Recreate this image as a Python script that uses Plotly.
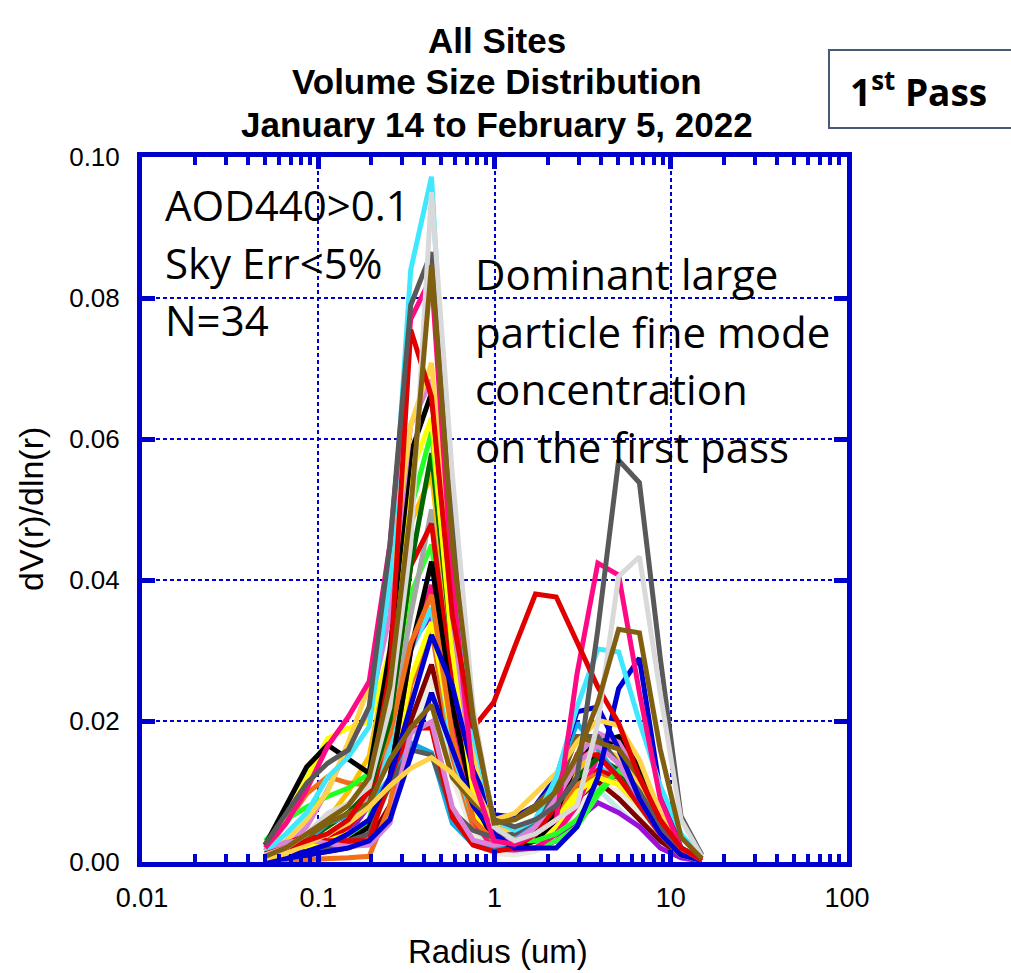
import plotly.graph_objects as go

# ---------------- data ----------------
RADIUS_UM = [0.05, 0.065604, 0.086077, 0.112939, 0.148184, 0.194429, 0.255105, 0.334716,
             0.439173, 0.576227, 0.756052, 0.991996, 1.301571, 1.707757, 2.240702, 2.939966,
             3.857452, 5.061260, 6.640745, 8.713145, 11.432287, 15.0]

beige      = [0.0002,0.0004,0.0008,0.0012,0.002,0.003,0.008,0.018,0.026,0.012,0.004,0.0012,0.001,0.0015,0.003,0.007,0.011,0.010,0.007,0.003,0.001,0.0002]
lightcyan  = [0.0003,0.0005,0.001,0.0015,0.002,0.003,0.007,0.016,0.024,0.014,0.005,0.002,0.0015,0.002,0.004,0.0095,0.0104,0.0075,0.005,0.0025,0.0008,0.0002]
darkred    = [0.0003,0.0006,0.001,0.0015,0.002,0.003,0.008,0.020,0.028,0.016,0.006,0.003,0.0025,0.003,0.005,0.009,0.0114,0.009,0.006,0.003,0.001,0.0002]
purple     = [0.0003,0.0006,0.001,0.002,0.004,0.008,0.016,0.031,0.035,0.022,0.008,0.003,0.002,0.002,0.003,0.006,0.0084,0.007,0.005,0.002,0.0006,0.0001]
orange2    = [0.0001,0.0002,0.0003,0.0005,0.0006,0.0008,0.008,0.025,0.033,0.015,0.005,0.003,0.003,0.004,0.007,0.011,0.0125,0.012,0.008,0.004,0.001,0.0002]
green2     = [0.0003,0.0006,0.001,0.002,0.003,0.006,0.018,0.038,0.045,0.022,0.008,0.003,0.002,0.002,0.003,0.005,0.0095,0.013,0.010,0.005,0.0015,0.0002]
cyan2      = [0.0005,0.001,0.002,0.003,0.005,0.008,0.016,0.030,0.036,0.016,0.006,0.003,0.0025,0.003,0.005,0.010,0.0135,0.012,0.008,0.004,0.001,0.0002]
gray2      = [0.0005,0.001,0.002,0.004,0.006,0.009,0.018,0.035,0.050,0.028,0.010,0.004,0.003,0.004,0.007,0.012,0.015,0.013,0.009,0.004,0.001,0.0002]
gold3      = [0.0006,0.0015,0.003,0.006,0.010,0.015,0.030,0.048,0.055,0.030,0.012,0.005,0.004,0.005,0.008,0.013,0.016,0.015,0.011,0.005,0.0015,0.0002]
red3       = [0.0005,0.001,0.002,0.003,0.005,0.008,0.020,0.042,0.048,0.025,0.009,0.004,0.003,0.004,0.006,0.010,0.013,0.012,0.009,0.004,0.001,0.0002]
yellow2    = [0.0005,0.001,0.002,0.003,0.004,0.006,0.012,0.026,0.034,0.018,0.007,0.003,0.0025,0.003,0.005,0.009,0.012,0.011,0.008,0.004,0.001,0.0002]
magenta2   = [0.0005,0.001,0.0015,0.002,0.0025,0.004,0.012,0.030,0.0393,0.020,0.006,0.0018,0.0017,0.002,0.004,0.008,0.015,0.012,0.008,0.004,0.001,0.0002]
black2     = [0.0003,0.0006,0.001,0.002,0.003,0.005,0.012,0.030,0.0426,0.022,0.009,0.003,0.002,0.003,0.006,0.011,0.016,0.0175,0.013,0.006,0.002,0.0003]
orange     = [0.0016,0.0055,0.0097,0.0121,0.0112,0.0109,0.018,0.031,0.0379,0.018,0.006,0.003,0.003,0.004,0.007,0.011,0.0125,0.011,0.008,0.004,0.001,0.0002]
dgreen     = [0.001,0.002,0.003,0.005,0.007,0.010,0.020,0.042,0.058,0.030,0.012,0.005,0.004,0.005,0.008,0.012,0.0148,0.013,0.009,0.004,0.001,0.0002]
green      = [0.003,0.006,0.0078,0.0093,0.0105,0.0126,0.030,0.050,0.0610,0.032,0.012,0.005,0.003,0.003,0.004,0.006,0.010,0.013,0.011,0.006,0.002,0.0005]
yellow     = [0.002,0.006,0.012,0.0175,0.019,0.0199,0.030,0.055,0.063,0.030,0.010,0.004,0.003,0.004,0.006,0.010,0.012,0.011,0.008,0.004,0.001,0.0002]
black      = [0.0024,0.0078,0.0135,0.0166,0.0145,0.0126,0.030,0.058,0.0665,0.036,0.014,0.004,0.003,0.004,0.007,0.0145,0.017,0.0178,0.0135,0.006,0.002,0.0003]
orchid     = [0.0008,0.002,0.005,0.0102,0.0164,0.0215,0.035,0.062,0.0684,0.035,0.012,0.004,0.003,0.005,0.009,0.015,0.0183,0.017,0.012,0.005,0.0015,0.0002]
gold       = [0.001,0.003,0.006,0.010,0.017,0.025,0.040,0.062,0.0708,0.038,0.015,0.005,0.004,0.006,0.009,0.014,0.016,0.015,0.011,0.005,0.0015,0.0003]
sky        = [0.0005,0.0015,0.003,0.0055,0.0065,0.0078,0.012,0.0169,0.0155,0.0055,0.0025,0.002,0.003,0.006,0.012,0.0197,0.016,0.012,0.008,0.004,0.001,0.0002]
dgray2     = [0.0005,0.001,0.0015,0.002,0.003,0.004,0.011,0.0159,0.0152,0.0072,0.0045,0.0035,0.004,0.006,0.010,0.0178,0.0178,0.014,0.010,0.005,0.0015,0.0002]
red2       = [0.0012,0.0026,0.0038,0.003,0.003,0.003,0.012,0.019,0.019,0.0064,0.0024,0.0015,0.002,0.004,0.008,0.0152,0.0152,0.012,0.008,0.004,0.001,0.0002]
orchid2    = [0.0016,0.0028,0.0031,0.0026,0.0022,0.0024,0.0055,0.0183,0.0199,0.0078,0.0031,0.0024,0.003,0.005,0.009,0.014,0.0165,0.014,0.009,0.004,0.001,0.0002]
blueA      = [0.0003,0.0008,0.0015,0.0025,0.004,0.006,0.012,0.022,0.0322,0.025,0.013,0.0067,0.0064,0.008,0.012,0.0213,0.022,0.016,0.009,0.004,0.001,0.0002]
blueB      = [0.0002,0.0005,0.001,0.0015,0.002,0.003,0.006,0.015,0.024,0.016,0.008,0.004,0.002,0.002,0.002,0.005,0.012,0.0246,0.0289,0.010,0.002,0.0003]
olive2     = [0.0008,0.0018,0.0036,0.0055,0.0069,0.0083,0.0145,0.019,0.0223,0.012,0.0085,0.006,0.006,0.008,0.011,0.0176,0.017,0.016,0.012,0.006,0.002,0.0003]
gold2      = [0.0005,0.0012,0.0025,0.004,0.0055,0.0078,0.0108,0.0133,0.0148,0.0126,0.0093,0.006,0.0069,0.0097,0.0126,0.017,0.0201,0.0194,0.0145,0.007,0.002,0.0003]
cyan       = [0.0015,0.004,0.007,0.012,0.0149,0.0192,0.040,0.084,0.0972,0.045,0.018,0.006,0.0045,0.006,0.012,0.022,0.0302,0.0298,0.0199,0.0108,0.004,0.0005]
magenta    = [0.002,0.0055,0.0103,0.0164,0.0206,0.0256,0.045,0.077,0.083,0.040,0.012,0.003,0.0025,0.004,0.006,0.0267,0.0424,0.0407,0.024,0.009,0.002,0.0003]
red        = [0.0012,0.002,0.003,0.004,0.006,0.0102,0.027,0.0755,0.066,0.035,0.019,0.0227,0.0305,0.038,0.0376,0.031,0.0248,0.0197,0.012,0.006,0.002,0.0003]
dgray      = [0.0025,0.0069,0.0112,0.014,0.0159,0.022,0.045,0.079,0.0865,0.048,0.020,0.006,0.005,0.006,0.008,0.012,0.033,0.057,0.0538,0.029,0.0065,0.001]
lgray      = [0.001,0.002,0.004,0.0069,0.0083,0.0107,0.022,0.045,0.0950,0.055,0.022,0.005,0.003,0.004,0.006,0.008,0.0197,0.0405,0.0433,0.024,0.006,0.0008]
olive      = [0.0008,0.002,0.004,0.006,0.008,0.012,0.025,0.050,0.0847,0.045,0.0206,0.0055,0.006,0.0075,0.010,0.015,0.0226,0.033,0.0325,0.016,0.0035,0.0005]

SERIES = [
    ("beige", beige), ("lightcyan", lightcyan), ("darkred", darkred), ("purple", purple),
    ("orange2", orange2), ("green2", green2), ("cyan2", cyan2), ("gray2", gray2),
    ("gold3", gold3), ("red3", red3), ("yellow2", yellow2), ("magenta2", magenta2),
    ("black2", black2), ("orange", orange), ("dgreen", dgreen), ("green", green),
    ("yellow", yellow), ("black", black), ("orchid", orchid), ("gold", gold),
    ("sky", sky), ("dgray2", dgray2), ("red2", red2), ("orchid2", orchid2),
    ("blueA", blueA), ("blueB", blueB), ("olive2", olive2), ("gold2", gold2),
    ("cyan", cyan), ("magenta", magenta), ("red", red), ("dgray", dgray),
    ("lgray", lgray), ("olive", olive),
]

# ---------------- styles ----------------
COLORS = {
    "beige": "#EEECE1", "lightcyan": "#C4E8E8", "darkred": "#800000", "purple": "#9A10D8",
    "orange2": "#F07018", "green2": "#33FF33", "cyan2": "#40E8FF", "gray2": "#A6A6A6",
    "gold3": "#FFC000", "red3": "#E00000", "yellow2": "#FFFF00", "magenta2": "#FF0A84",
    "black2": "#000000", "orange": "#F07018", "dgreen": "#006400", "green": "#22FF22",
    "yellow": "#FFFF00", "black": "#000000", "orchid": "#D883D8", "gold": "#FFD347",
    "sky": "#12ACE6", "dgray2": "#595959", "red2": "#E00000", "orchid2": "#D883D8",
    "blueA": "#0000D0", "blueB": "#0000D0", "olive2": "#806010", "gold2": "#FFD347",
    "cyan": "#40E8FF", "magenta": "#FF0A84", "red": "#E00000", "dgray": "#595959",
    "lgray": "#D9D9D9", "olive": "#806010",
}
BLUE = "#0000CD"
AX_FONT = "Liberation Sans, Arial, sans-serif"
TXT_FONT = "Open Sans, sans-serif"

fig = go.Figure()
for name, vals in SERIES:
    fig.add_trace(go.Scatter(x=RADIUS_UM, y=vals, mode="lines", name=name,
                             line=dict(color=COLORS[name], width=5),
                             showlegend=False, hoverinfo="skip"))

L, R, T, B = 142, 164, 157, 111
W, H = 1011, 973
PW, PH = W - L - R, H - T - B

def px(x):
    return (x - L) / PW

def py(y):
    return (H - B - y) / PH

minor_vals = [m * 10 ** e for e in range(-2, 2) for m in range(2, 10)]

fig.update_xaxes(type="log", range=[-2, 2],
                 tickvals=[0.01, 0.1, 1, 10, 100], ticktext=["0.01", "0.1", "1", "10", "100"],
                 showline=True, linewidth=5, linecolor=BLUE, mirror="allticks",
                 ticks="inside", ticklen=12, tickwidth=5, tickcolor=BLUE,
                 showgrid=True, gridcolor=BLUE, gridwidth=1.5, griddash="4px,3px",
                 minor=dict(tickmode="array", tickvals=minor_vals, ticks="inside",
                            ticklen=8, tickwidth=4, tickcolor=BLUE, showgrid=False),
                 zeroline=False, tickfont=dict(family=AX_FONT, size=27, color="black"),
                 ticklabelstandoff=8)
fig.update_yaxes(range=[0, 0.1], tickvals=[0, 0.02, 0.04, 0.06, 0.08, 0.10],
                 ticktext=["0.00", "0.02", "0.04", "0.06", "0.08", "0.10"],
                 showline=True, linewidth=5, linecolor=BLUE, mirror="allticks",
                 ticks="inside", ticklen=13, tickwidth=5, tickcolor=BLUE,
                 showgrid=True, gridcolor=BLUE, gridwidth=1.5, griddash="4px,3px",
                 zeroline=False, tickfont=dict(family=AX_FONT, size=26, color="black"),
                 ticklabelstandoff=12)

ann = []
# title lines
for text, yc in [("All Sites", 40), ("Volume Size Distribution", 82),
                 ("January 14 to February 5, 2022", 125)]:
    ann.append(dict(text="<b>" + text + "</b>", x=px(497), y=py(yc), xref="paper", yref="paper",
                    xanchor="center", yanchor="middle", showarrow=False,
                    font=dict(family=AX_FONT, size=35, color="black")))
# axis titles
ann.append(dict(text="Radius (um)", x=px(498), y=py(951), xref="paper", yref="paper",
                xanchor="center", yanchor="middle", showarrow=False,
                font=dict(family=AX_FONT, size=33, color="black")))
ann.append(dict(text="dV(r)/dln(r)", x=px(31), y=py(509), xref="paper", yref="paper",
                xanchor="center", yanchor="middle", showarrow=False, textangle=-90,
                font=dict(family=AX_FONT, size=34, color="black")))
# inner texts
for text, yc in [("AOD440>0.1", 204), ("Sky Err<5%", 262), ("N=34", 319)]:
    ann.append(dict(text=text, x=px(163), y=py(yc), xref="paper", yref="paper",
                    xanchor="left", yanchor="middle", showarrow=False,
                    font=dict(family=TXT_FONT, size=42, color="black")))
for text, yc in [("Dominant large", 273), ("particle fine mode", 331),
                 ("concentration", 388), ("on the first pass", 446)]:
    ann.append(dict(text=text, x=px(473), y=py(yc), xref="paper", yref="paper",
                    xanchor="left", yanchor="middle", showarrow=False,
                    font=dict(family=TXT_FONT, size=42, color="black")))
# pass box label
ann.append(dict(text="<b>1<sup>st</sup> Pass</b>", x=px(848), y=py(90), xref="paper", yref="paper",
                xanchor="left", yanchor="middle", showarrow=False,
                font=dict(family=TXT_FONT, size=37, color="black")))

fig.update_layout(
    width=W, height=H, margin=dict(l=L, r=R, t=T, b=B),
    paper_bgcolor="white", plot_bgcolor="white",
    annotations=ann,
    shapes=[dict(type="rect", xref="paper", yref="paper",
                 x0=px(829), x1=px(1020), y0=py(128), y1=py(50),
                 line=dict(color="#475A7A", width=2), fillcolor="rgba(0,0,0,0)")],
)

fig.write_html("out.html")
